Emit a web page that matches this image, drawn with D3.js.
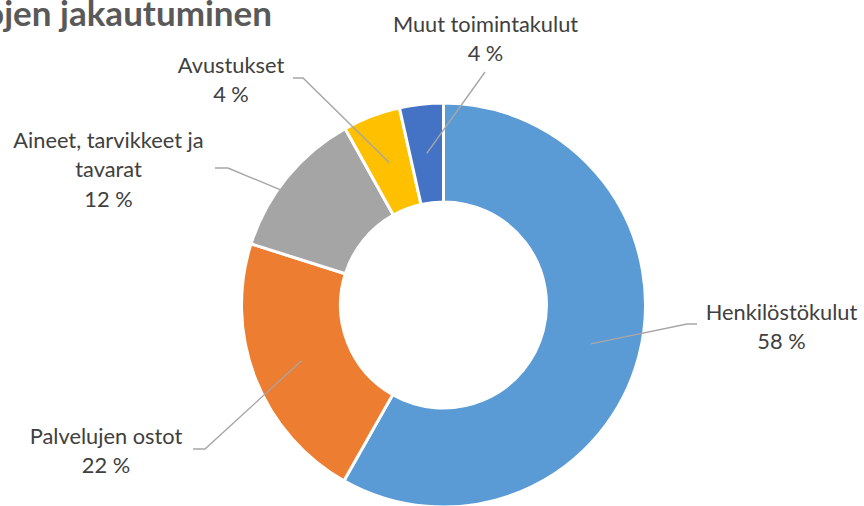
<!DOCTYPE html>
<html><head><meta charset="utf-8">
<script src="https://cdn.jsdelivr.net/npm/d3@7"></script>
<style>html,body{margin:0;padding:0;background:#fff;overflow:hidden}</style>
</head><body>
<svg id="c" width="864" height="506"></svg>
<script>
const categories = ["Henkilöstökulut","Palvelujen ostot","Aineet, tarvikkeet ja tavarat","Avustukset","Muut toimintakulut"];
const values = [58.2, 21.7, 12.0, 4.6, 3.5];
const percentLabels = ["58 %","22 %","12 %","4 %","4 %"];
const colors = ["#5B9BD5","#ED7D31","#A5A5A5","#FFC000","#4472C4"];
const titleText = "Menojen jakautuminen";

// layout (label text block lines & elbow positions)
const labelLayout = [
  {lines:["Henkilöstökulut"], x:781.5, y:320, elbow:[687,324], end:[697,324]},
  {lines:["Palvelujen ostot"], x:106, y:444, elbow:[205,449], end:[193,449]},
  {lines:["Aineet, tarvikkeet ja","tavarat"], x:108.5, y:148, elbow:[228,168], end:[215,168]},
  {lines:["Avustukset"], x:231, y:72.5, elbow:[303,78], end:[293,78]},
  {lines:["Muut toimintakulut"], x:485.5, y:32, elbow:[485,72], end:[485,72]}
];

const svg = d3.select("#c");
const cx = 443.5, cy = 305, rOuter = 202, rInner = 103;
const font = "Lato, 'Open Sans', sans-serif";

svg.append("text").attr("x",272).attr("y",26).attr("text-anchor","end")
  .attr("font-family",font).attr("font-weight","bold").attr("font-size",35)
  .attr("fill","#595959").text(titleText);

const pie = d3.pie().sort(null).value(d=>d)(values);
const arc = d3.arc().innerRadius(rInner).outerRadius(rOuter);
const g = svg.append("g").attr("transform",`translate(${cx},${cy})`);
g.selectAll("path").data(pie).join("path")
  .attr("d",arc).attr("fill",(d,i)=>colors[i])
  .attr("stroke","#fff").attr("stroke-width",3).attr("stroke-linejoin","round");

// leader lines
pie.forEach((d,i)=>{
  const c = arc.centroid(d);
  const L = labelLayout[i];
  const pts = [[c[0]+cx,c[1]+cy], L.elbow, L.end];
  svg.append("path").attr("d",d3.line()(pts)).attr("fill","none")
    .attr("stroke","#A6A6A6").attr("stroke-width",1.4);
});

// labels
labelLayout.forEach((L,i)=>{
  const t = svg.append("text").attr("text-anchor","middle")
    .attr("font-family",font).attr("font-size",21.8).attr("fill","#404040");
  const lines = L.lines.concat([percentLabels[i]]);
  lines.forEach((s,k)=>{
    t.append("tspan").attr("x",L.x).attr("y",L.y + k*29.3).text(s);
  });
});
</script>
</body></html>
